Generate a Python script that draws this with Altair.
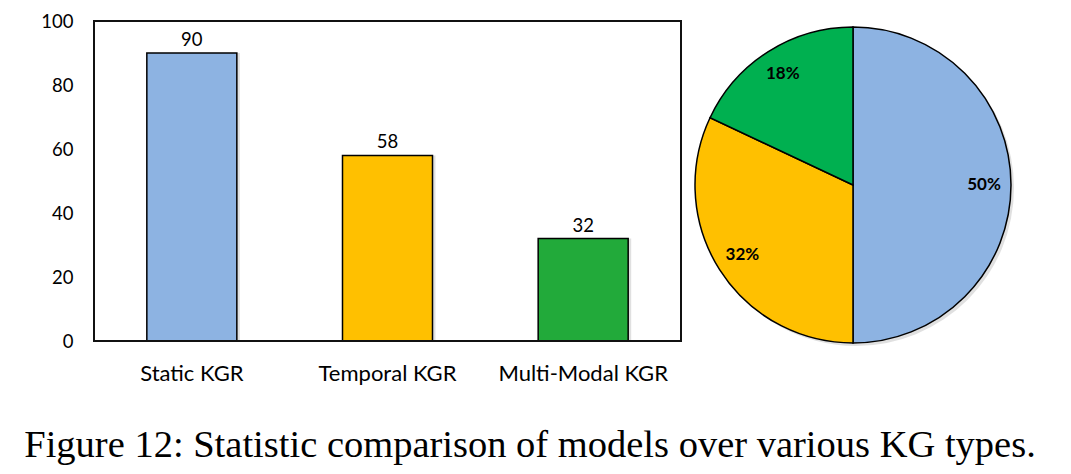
""" Bar + pie chart of models over KG types """

import pandas as pd
import altair as alt

categories = ["Static KGR", "Temporal KGR", "Multi-Modal KGR"]
model_counts = [90, 58, 32]
bar_colors = ["#8DB3E2", "#FFC000", "#22AA3A"]

pie_labels = ["50%", "32%", "18%"]
pie_shares = [50, 32, 18]
pie_colors = ["#8DB3E2", "#FFC000", "#00B050"]

caption = "Figure 12: Statistic comparison of models over various KG types."

bars_df = pd.DataFrame({"kg": categories, "models": model_counts, "color": bar_colors})
pie_df = pd.DataFrame(
    {"label": pie_labels, "share": pie_shares, "color": pie_colors, "order": [0, 1, 2]}
)

x_enc = alt.X(
    "kg:N",
    sort=categories,
    title=None,
    scale=alt.Scale(paddingInner=0.54, paddingOuter=0.27),
    axis=alt.Axis(
        labelAngle=0,
        labelFont="Lato",
        labelFontSize=22,
        labelColor="black",
        labelPadding=22,
        ticks=False,
        domain=False,
    ),
)
y_enc = alt.Y(
    "models:Q",
    title=None,
    scale=alt.Scale(domain=[0, 100]),
    axis=alt.Axis(
        values=[0, 20, 40, 60, 80, 100],
        labelFont="Lato",
        labelFontSize=18.5,
        labelColor="black",
        labelPadding=21,
        ticks=False,
        domain=False,
        grid=False,
    ),
)

base = alt.Chart(bars_df).encode(x=x_enc, y=y_enc)

shadow = base.mark_bar(color="#999999", opacity=0.3, xOffset=3)
bars = base.mark_bar(stroke="black", strokeWidth=1.5).encode(
    color=alt.Color("color:N", scale=None)
)
bar_text = base.mark_text(
    font="Lato", fontSize=18.5, color="black", baseline="alphabetic", dy=-7
).encode(text="models:Q")

# plot frame around the bar panel
frame = (
    alt.Chart(pd.DataFrame({"f": [0]}))
    .mark_rect(fill=None, stroke="#111111", strokeWidth=2)
    .encode(
        x=alt.value(0), x2=alt.value("width"), y=alt.value(0), y2=alt.value("height")
    )
)

pie_base = alt.Chart(pie_df).encode(
    theta=alt.Theta("share:Q", stack=True),
    order=alt.Order("order:Q"),
)
pie_shadow = pie_base.mark_arc(
    radius=158, color="#999999", opacity=0.3
).encode(x=alt.value(762), y=alt.value(167))
pie = pie_base.mark_arc(radius=158, stroke="black", strokeWidth=1.5).encode(
    color=alt.Color("color:N", scale=None),
    x=alt.value(759),
    y=alt.value(164),
)
pie_text = pie_base.mark_text(
    radius=131, font="Lato", fontSize=17, fontWeight="bold", color="black"
).encode(text="label:N", x=alt.value(759), y=alt.value(164))

caption_text = (
    alt.Chart(pd.DataFrame({"t": [caption]}))
    .mark_text(
        font="Liberation Serif",
        fontSize=38.5,
        color="black",
        baseline="alphabetic",
        align="center",
    )
    .encode(text="t:N", x=alt.value(436), y=alt.value(436))
)

chart = (
    alt.layer(
        shadow, bars, bar_text, frame, pie_shadow, pie, pie_text, caption_text
    )
    .properties(
        width=587,
        height=320,
        autosize=alt.AutoSizeParams(type="none"),
        padding={"left": 86, "top": 13, "right": 360, "bottom": 125},
    )
    .configure_view(strokeWidth=0)
    .configure(background="white")
)

chart.save("out.html", embed_options={"renderer": "svg", "actions": False})
